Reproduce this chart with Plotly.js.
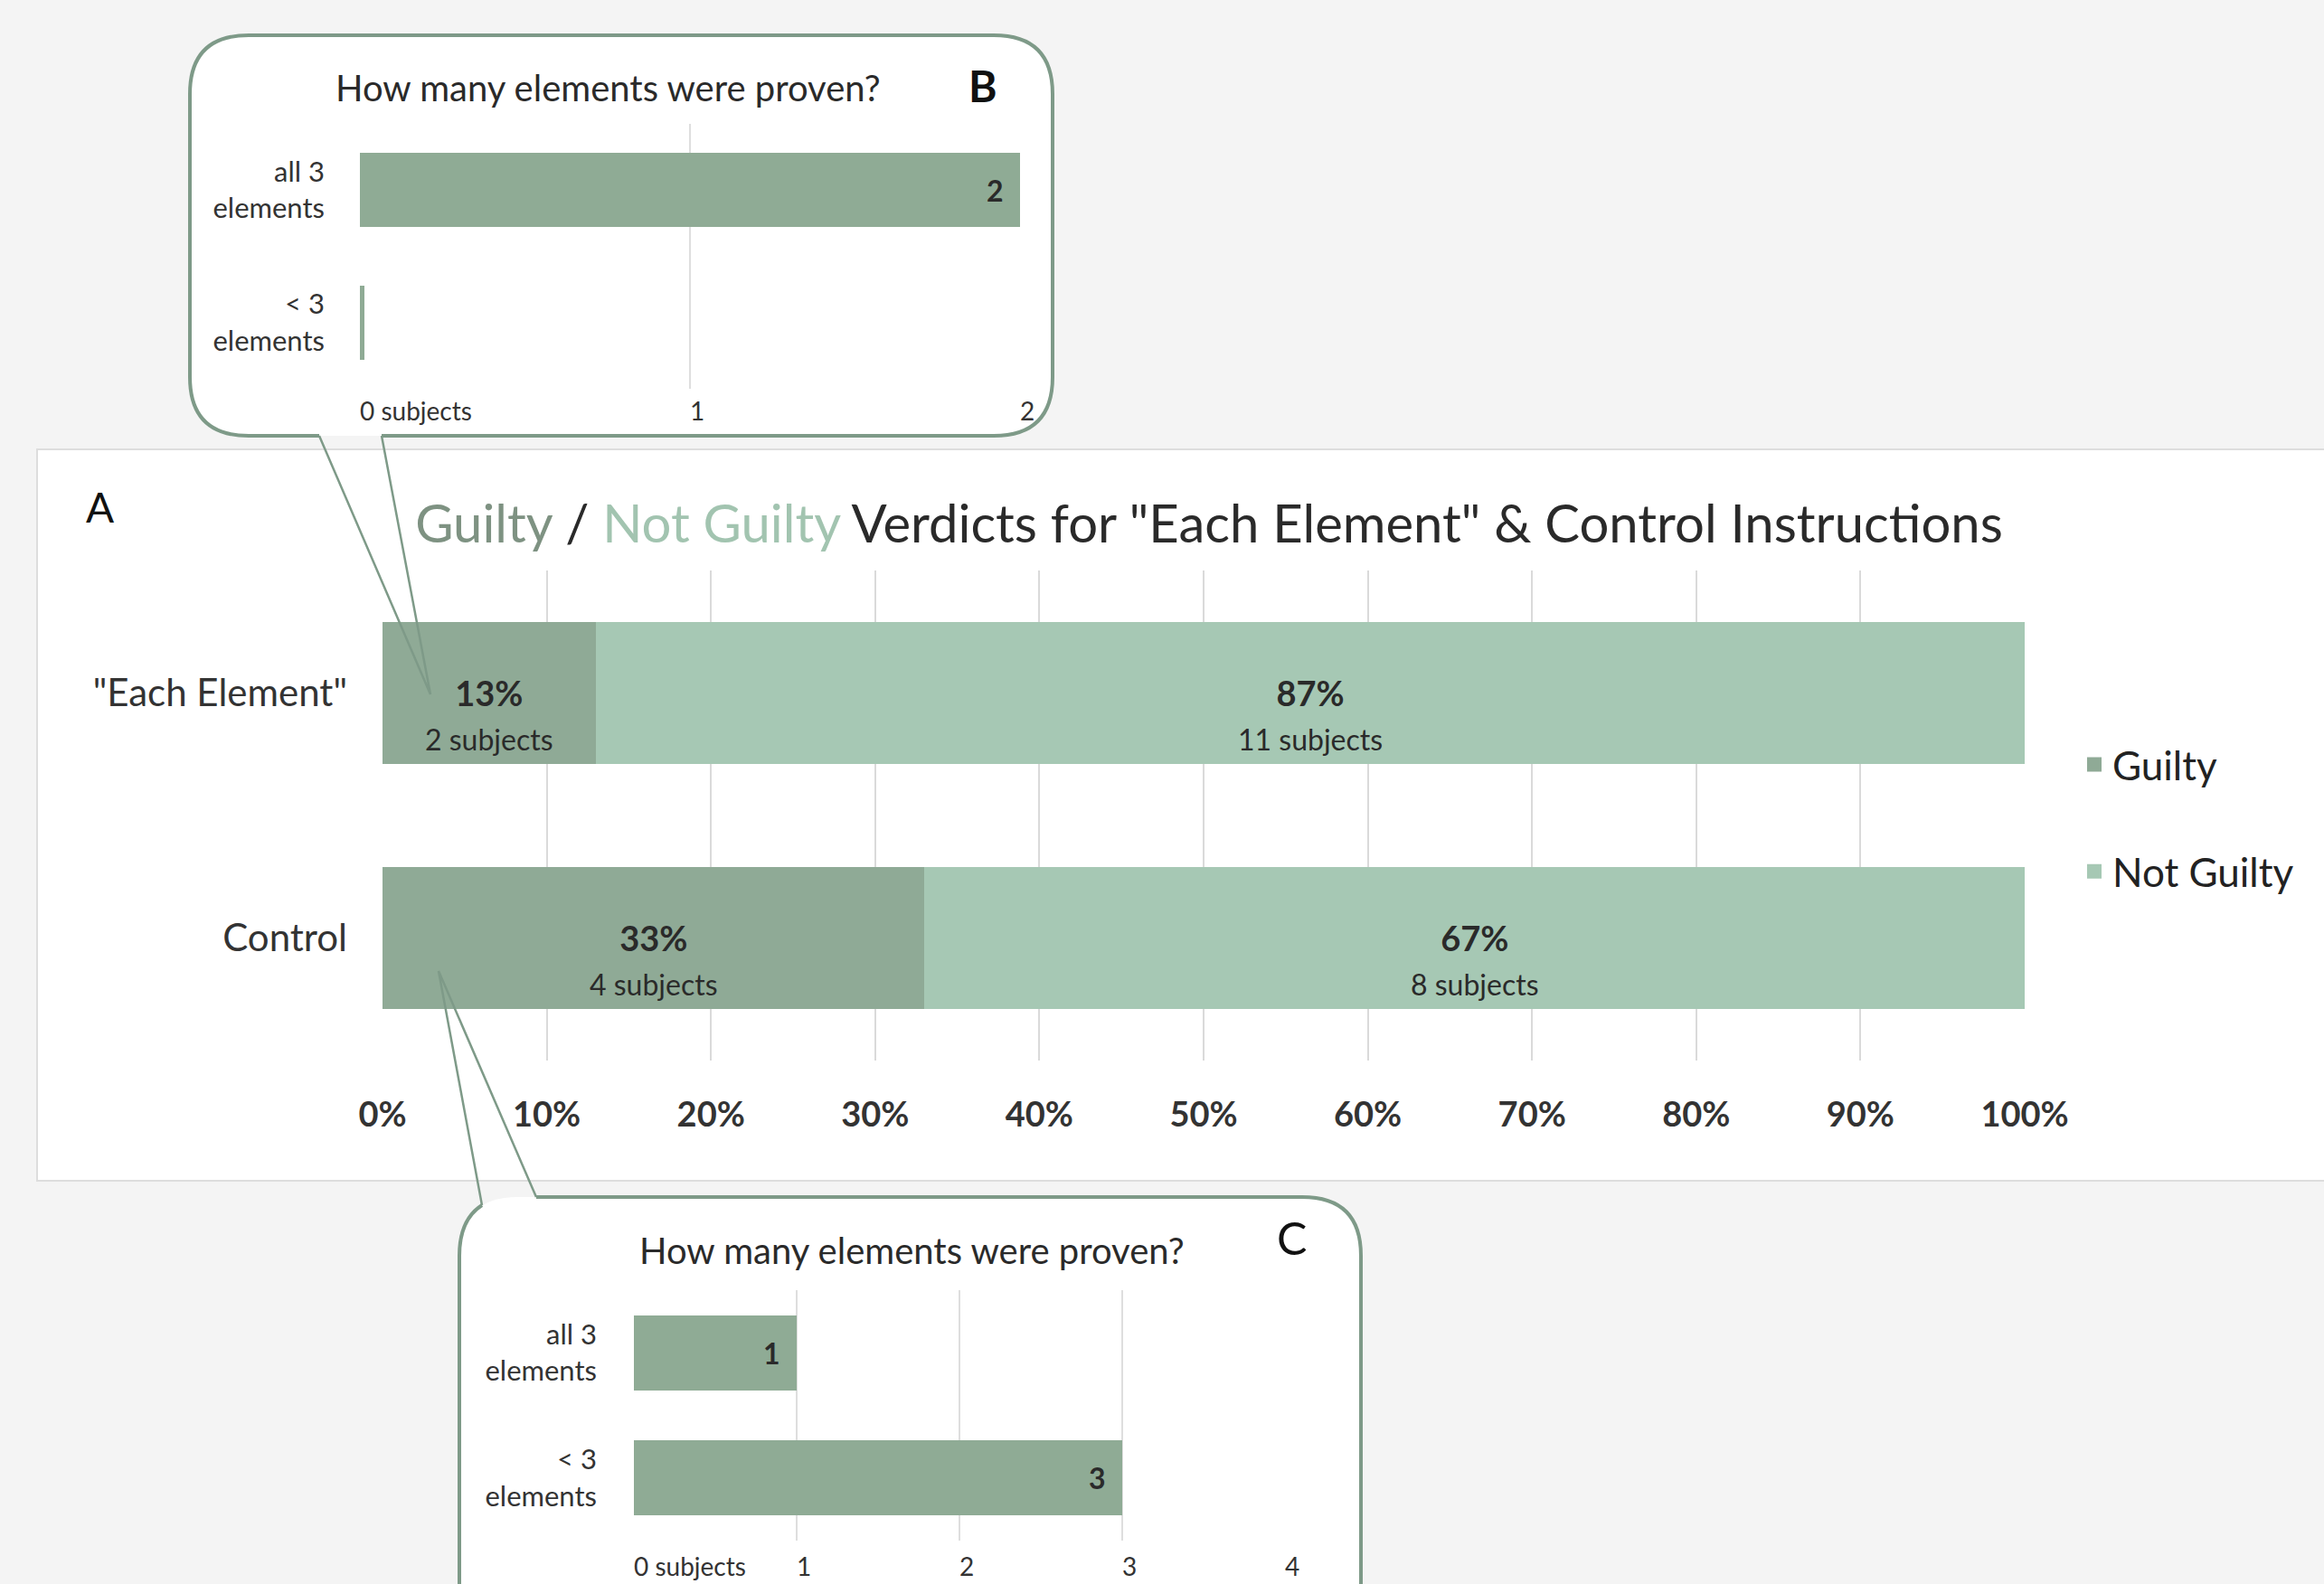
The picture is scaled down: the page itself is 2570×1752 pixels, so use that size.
<!DOCTYPE html>
<html><head><meta charset="utf-8">
<script src="https://cdn.plot.ly/plotly-3.0.1.min.js"></script>
<style>html,body{margin:0;padding:0;background:#f4f4f4;} #chart{width:2570px;height:1752px;}</style>
</head><body><div id="chart"></div>
<script>
// ---- data ----
const categories = ['"Each Element"', 'Control'];
const guiltyPct = [13, 33];
const notGuiltyPct = [87, 67];
const guiltySubjects = [2, 4];
const notGuiltySubjects = [11, 8];
const pctTicks = [0, 10, 20, 30, 40, 50, 60, 70, 80, 90, 100];
const pctTickLabels = ['0%', '10%', '20%', '30%', '40%', '50%', '60%', '70%', '80%', '90%', '100%'];

const insetCategories = ['all 3<br>elements', '&lt; 3<br>elements'];
const insetBValues = [2, 0.015];     // "Each Element" guilty: how many elements proven
const insetCValues = [1, 3];         // Control guilty: how many elements proven
const insetBTicks = [0, 1, 2];
const insetBTickLabels = ['0 subjects', '1', '2'];
const insetCTicks = [0, 1, 2, 3, 4];
const insetCTickLabels = ['0 subjects', '1', '2', '3', '4'];

const mainTitle = '<span style="color:#7e9282">Guilty</span> / <span style="color:#a2c4b0">Not Guilty</span> Verdicts for "Each Element" &amp; Control Instructions';
const insetTitle = 'How many elements were proven?';

// ---- styling ----
const W = 2570, H = 1752;
const px = x => x / W;
const py = y => 1 - y / H;
const FONT = 'Lato, "Open Sans", sans-serif';
const DARK = '#2a2a2a';
const C_GUILTY = '#8faa96';
const C_NOT = '#a6c8b4';
const C_INSET = '#8fab95';
const C_BORDER = '#7e9a88';

function P(pts) { return pts.map(p => px(p[0]) + ',' + py(p[1])).join(' '); }
function roundedClosed(x0, y0, x1, y1, r) {
  return 'M' + P([[x0 + r, y0]]) + ' L' + P([[x1 - r, y0]]) + ' Q' + P([[x1, y0], [x1, y0 + r]]) +
    ' L' + P([[x1, y1 - r]]) + ' Q' + P([[x1, y1], [x1 - r, y1]]) + ' L' + P([[x0 + r, y1]]) +
    ' Q' + P([[x0, y1], [x0, y1 - r]]) + ' L' + P([[x0, y0 + r]]) + ' Q' + P([[x0, y0], [x0 + r, y0]]) + ' Z';
}

const textLabel = v => (v >= 1 ? String(v) + '\u00a0\u00a0' : '');

const traces = [
  {
    type: 'bar', orientation: 'h', name: 'Guilty', y: categories, x: guiltyPct,
    marker: { color: C_GUILTY }, width: 0.58, xaxis: 'x', yaxis: 'y', showlegend: false, hoverinfo: 'skip'
  },
  {
    type: 'bar', orientation: 'h', name: 'Not Guilty', y: categories, x: notGuiltyPct,
    marker: { color: C_NOT }, width: 0.58, xaxis: 'x', yaxis: 'y', showlegend: false, hoverinfo: 'skip'
  },
  // legend entries
  { type: 'scatter', mode: 'markers', name: 'Guilty', x: [null], y: [null], xaxis: 'x', yaxis: 'y',
    marker: { symbol: 'square', size: 22, color: C_GUILTY }, legendgroup: 'g', hoverinfo: 'skip' },
  { type: 'scatter', mode: 'markers', name: 'Not Guilty', x: [null], y: [null], xaxis: 'x', yaxis: 'y',
    marker: { symbol: 'square', size: 22, color: C_NOT }, legendgroup: 'n', hoverinfo: 'skip' },
  {
    type: 'bar', orientation: 'h', y: insetCategories, x: insetBValues, xaxis: 'x2', yaxis: 'y2',
    marker: { color: C_INSET }, width: 0.56, showlegend: false, hoverinfo: 'skip',
    text: insetBValues.map(textLabel), textposition: 'inside', insidetextanchor: 'end',
    textfont: { family: FONT, size: 32, color: DARK, weight: 'bold' }
  },
  {
    type: 'bar', orientation: 'h', y: insetCategories, x: insetCValues, xaxis: 'x3', yaxis: 'y3',
    marker: { color: C_INSET }, width: 0.6, showlegend: false, hoverinfo: 'skip',
    text: insetCValues.map(textLabel), textposition: 'inside', insidetextanchor: 'end',
    textfont: { family: FONT, size: 32, color: DARK, weight: 'bold' }
  }
];

// bar segment labels
const annotations = [];
categories.forEach((c, i) => {
  annotations.push({
    xref: 'x', yref: 'y', x: guiltyPct[i] / 2, y: c, yshift: -23, xanchor: 'center', yanchor: 'middle', showarrow: false,
    text: '<b>' + guiltyPct[i] + '%</b><br><span style="font-size:32px">' + guiltySubjects[i] + ' subjects</span>',
    font: { family: FONT, size: 38, color: DARK }
  });
  annotations.push({
    xref: 'x', yref: 'y', x: guiltyPct[i] + notGuiltyPct[i] / 2, y: c, yshift: -23, xanchor: 'center', yanchor: 'middle', showarrow: false,
    text: '<b>' + notGuiltyPct[i] + '%</b><br><span style="font-size:32px">' + notGuiltySubjects[i] + ' subjects</span>',
    font: { family: FONT, size: 38, color: DARK }
  });
});
const paperText = (x, y, text, font) => ({ xref: 'paper', yref: 'paper', x: px(x), y: py(y), xanchor: 'center', yanchor: 'middle',
  text: text, showarrow: false, font: font });
annotations.push(
  paperText(110, 560, 'A', { family: FONT, size: 46, color: '#111' }),
  paperText(1087, 95, 'B', { family: FONT, size: 48, color: '#111', weight: 'bold' }),
  paperText(1428, 1369, 'C', { family: FONT, size: 50, color: '#111' }),
  paperText(672, 97, insetTitle, { family: FONT, size: 40, color: DARK }),
  paperText(1008, 1383, insetTitle, { family: FONT, size: 40, color: DARK })
);

const shapes = [
  // panel A
  { type: 'rect', xref: 'paper', yref: 'paper', x0: px(41), x1: px(2580), y0: py(1306), y1: py(497),
    fillcolor: '#ffffff', line: { color: '#dddddd', width: 2 }, layer: 'below' },
  // inset B box
  { type: 'path', xref: 'paper', yref: 'paper', path: roundedClosed(210, 39, 1164, 482, 65),
    fillcolor: '#ffffff', line: { width: 0 }, layer: 'below' },
  { type: 'path', xref: 'paper', yref: 'paper',
    path: 'M' + P([[422, 482]]) + ' L' + P([[1164 - 65, 482]]) + ' Q' + P([[1164, 482], [1164, 482 - 65]]) +
      ' L' + P([[1164, 39 + 65]]) + ' Q' + P([[1164, 39], [1164 - 65, 39]]) + ' L' + P([[210 + 65, 39]]) +
      ' Q' + P([[210, 39], [210, 39 + 65]]) + ' L' + P([[210, 482 - 65]]) + ' Q' + P([[210, 482], [210 + 65, 482]]) +
      ' L' + P([[353, 482]]),
    line: { color: C_BORDER, width: 4 }, layer: 'below' },
  // inset C box
  { type: 'path', xref: 'paper', yref: 'paper', path: roundedClosed(508, 1324, 1505, 1900, 65),
    fillcolor: '#ffffff', line: { width: 0 }, layer: 'below' },
  { type: 'path', xref: 'paper', yref: 'paper',
    path: 'M' + P([[593, 1324]]) + ' L' + P([[1505 - 65, 1324]]) + ' Q' + P([[1505, 1324], [1505, 1324 + 65]]) +
      ' L' + P([[1505, 1900]]),
    line: { color: C_BORDER, width: 4 }, layer: 'below' },
  { type: 'path', xref: 'paper', yref: 'paper',
    path: 'M' + P([[508, 1900]]) + ' L' + P([[508, 1389]]) + ' Q' + P([[508, 1349], [533, 1333]]),
    line: { color: C_BORDER, width: 4 }, layer: 'below' },
  // callout tails
  { type: 'path', xref: 'paper', yref: 'paper', path: 'M' + P([[353, 482]]) + ' L' + P([[476, 768]]) + ' L' + P([[422, 482]]),
    line: { color: C_BORDER, width: 2.5 }, layer: 'above' },
  { type: 'path', xref: 'paper', yref: 'paper', path: 'M' + P([[533, 1333]]) + ' L' + P([[485, 1074]]) + ' L' + P([[593, 1324]]),
    line: { color: C_BORDER, width: 2.5 }, layer: 'above' }
];

const layout = {
  width: W, height: H, autosize: false,
  margin: { l: 0, r: 0, t: 0, b: 0, pad: 0 },
  paper_bgcolor: '#f4f4f4', plot_bgcolor: 'rgba(0,0,0,0)',
  font: { family: FONT, color: DARK },
  barmode: 'stack', showlegend: true,
  title: { text: mainTitle, x: px(1337), xanchor: 'center', xref: 'paper', y: py(580), yanchor: 'middle',
    font: { family: FONT, size: 58, color: DARK } },
  legend: { x: px(2296), xanchor: 'left', y: py(905), yanchor: 'middle', bgcolor: 'rgba(0,0,0,0)',
    font: { family: FONT, size: 44, color: '#222' }, traceorder: 'grouped', tracegroupgap: 58, itemsizing: 'trace' },
  xaxis: {
    domain: [px(423), px(2239)], anchor: 'y', range: [0, 100], tickvals: pctTicks, ticktext: pctTickLabels,
    showgrid: true, gridcolor: '#dadada', gridwidth: 2, zeroline: false, showline: false, ticks: '',
    tickfont: { family: FONT, size: 38, color: '#333', weight: 'bold' }, ticklabelstandoff: 34, fixedrange: true
  },
  yaxis: {
    domain: [py(1173), py(631)], anchor: 'x', type: 'category', categoryarray: categories, autorange: 'reversed',
    showgrid: false, zeroline: false, showline: false, ticks: '',
    tickfont: { family: FONT, size: 42, color: '#333' }, ticklabelstandoff: 38, fixedrange: true
  },
  xaxis2: {
    domain: [px(398), px(1128)], anchor: 'y2', range: [0, 2], tickvals: insetBTicks, ticktext: insetBTickLabels,
    ticklabelposition: 'outside right',
    showgrid: true, gridcolor: '#dedede', gridwidth: 2, zeroline: false, showline: false, ticks: '',
    tickfont: { family: FONT, size: 28, color: '#333' }, ticklabelstandoff: 6, fixedrange: true
  },
  yaxis2: {
    domain: [py(430), py(137)], anchor: 'x2', type: 'category', categoryarray: insetCategories, autorange: 'reversed',
    showgrid: false, zeroline: false, showline: false, ticks: '',
    tickfont: { family: FONT, size: 31, color: '#333' }, ticklabelstandoff: 38, fixedrange: true
  },
  xaxis3: {
    domain: [px(701), px(1421)], anchor: 'y3', range: [0, 4], tickvals: insetCTicks, ticktext: insetCTickLabels,
    ticklabelposition: 'outside right',
    showgrid: true, gridcolor: '#dedede', gridwidth: 2, zeroline: false, showline: false, ticks: '',
    tickfont: { family: FONT, size: 28, color: '#333' }, ticklabelstandoff: 10, fixedrange: true
  },
  yaxis3: {
    domain: [py(1704), py(1427)], anchor: 'x3', type: 'category', categoryarray: insetCategories, autorange: 'reversed',
    showgrid: false, zeroline: false, showline: false, ticks: '',
    tickfont: { family: FONT, size: 31, color: '#333' }, ticklabelstandoff: 40, fixedrange: true
  },
  annotations: annotations,
  shapes: shapes
};

Plotly.newPlot('chart', traces, layout, { displayModeBar: false, staticPlot: true });
</script>
</body></html>
